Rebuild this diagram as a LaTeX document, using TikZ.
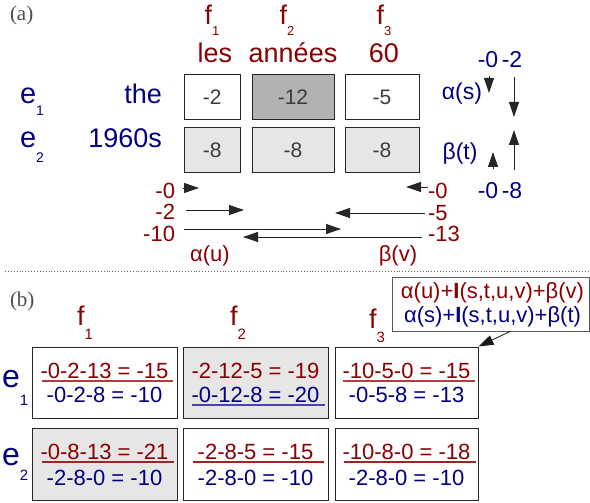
\documentclass[tikz,border=0pt]{standalone}
\usepackage{fontspec}
\setmainfont{Liberation Sans}
\setsansfont{Liberation Sans}
\newfontfamily\serifface{Liberation Serif}
\usetikzlibrary{arrows.meta}
\definecolor{dred}{RGB}{139,0,0}
\definecolor{dblue}{RGB}{0,0,128}
\definecolor{numgray}{RGB}{60,60,60}
\definecolor{lgray}{RGB}{230,230,230}
\definecolor{mgray}{RGB}{178,178,178}
\definecolor{ulred}{RGB}{180,60,60}
\definecolor{ulblue}{RGB}{70,70,170}
\newcommand\fsz[1]{\fontsize{#1}{#1}\selectfont}
\begin{document}
\begin{tikzpicture}[x=1pt,y=-1pt,
  txt/.style={inner sep=0pt,outer sep=0pt,anchor=base},
  rtxt/.style={txt,text=dred},
  btxt/.style={txt,text=dblue},
  acell/.style={draw=black!85,line width=1pt,inner sep=0pt,font=\fsz{21},text=numgray},
  bcell/.style={draw=black!85,line width=1pt,inner sep=0pt},
  ctxt/.style={inner sep=0pt,outer sep=0pt,font=\fsz{22}},
  arr/.style={-{Triangle[length=15pt,width=10pt]},line width=0.9pt,black!85},
  ul/.style={line width=1.3pt}
]
\useasboundingbox (0,0) rectangle (590,503);

% ---------- part (a) ----------
\node[txt,anchor=base west,text=black!70,font=\serifface\fsz{21}] (la) at (10,21) {(a)};

\node[rtxt,font=\fsz{27}] (f1a) at (212,25) {f\raisebox{-11pt}{\fsz{13}1}};
\node[rtxt,font=\fsz{27}] (f2a) at (287,25) {f\raisebox{-11pt}{\fsz{13}2}};
\node[rtxt,font=\fsz{27}] (f3a) at (384,25) {f\raisebox{-11pt}{\fsz{13}3}};
\node[rtxt,font=\fsz{27}] (w1) at (215,63) {les};
\node[rtxt,font=\fsz{27}] (w2) at (293,63) {années};
\node[rtxt,font=\fsz{27}] (w3) at (384,63) {60};

\node[btxt,anchor=base west,font=\fsz{29}] (e1a) at (20,103) {e\raisebox{-13pt}{\fsz{14}1}};
\node[btxt,anchor=base west,font=\fsz{29}] (e2a) at (20,148) {e\raisebox{-15pt}{\fsz{14}2}};
\node[btxt,anchor=base east,font=\fsz{27}] (the) at (162,103) {the};
\node[btxt,anchor=base east,font=\fsz{27}] (y1960) at (162,148) {1960s};

\node[acell,fill=white,minimum width=56.5pt,minimum height=45pt] (a11) at (212.25,97.5) {-2};
\node[acell,fill=mgray,minimum width=82pt,minimum height=45pt] (a12) at (293,97.5) {-12};
\node[acell,fill=white,minimum width=74pt,minimum height=45pt] (a13) at (382,97.5) {-5};
\node[acell,fill=lgray,minimum width=56.5pt,minimum height=45pt] (a21) at (212.25,150.5) {-8};
\node[acell,fill=lgray,minimum width=82pt,minimum height=45pt] (a22) at (293,150.5) {-8};
\node[acell,fill=lgray,minimum width=74pt,minimum height=45pt] (a23) at (382,150.5) {-8};

% right side alpha(s), beta(t)
\node[btxt,font=\fsz{23}] (s0) at (488,68) {-0};
\node[btxt,font=\fsz{23}] (s2) at (512,68) {-2};
\node[btxt,font=\fsz{23}] (als) at (462,100) {α(s)};
\node[btxt,font=\fsz{23}] (bet) at (460,160) {β(t)};
\node[btxt,font=\fsz{23}] (t0) at (488,198) {-0};
\node[btxt,font=\fsz{23}] (t8) at (512,198) {-8};
\coordinate (ds0a) at (489,76); \coordinate (ds0b) at (489,93);
\coordinate (ds2a) at (514,77); \coordinate (ds2b) at (514,117);
\coordinate (ut0a) at (493,169); \coordinate (ut0b) at (493,152);
\coordinate (ut8a) at (514,170); \coordinate (ut8b) at (514,130);
\draw[arr] (ds0a) -- (ds0b);
\draw[arr] (ds2a) -- (ds2b);
\draw[arr] (ut0a) -- (ut0b);
\draw[arr] (ut8a) -- (ut8b);

% bottom alpha(u), beta(v)
\node[rtxt,anchor=base east,font=\fsz{22}] (u0) at (175,198) {-0};
\node[rtxt,anchor=base east,font=\fsz{22}] (u2) at (175,219) {-2};
\node[rtxt,anchor=base east,font=\fsz{22}] (u10) at (175,241) {-10};
\node[rtxt,anchor=base west,font=\fsz{22}] (v0) at (428,198) {-0};
\node[rtxt,anchor=base west,font=\fsz{22}] (v5) at (428,220) {-5};
\node[rtxt,anchor=base west,font=\fsz{22}] (v13) at (428,241) {-13};
\node[rtxt,font=\fsz{22}] (alu) at (210,261) {α(u)};
\node[rtxt,font=\fsz{22}] (bev) at (398,261) {β(v)};
\coordinate (hu0a) at (183,188); \coordinate (hu0b) at (199,188);
\coordinate (hu2a) at (186,210); \coordinate (hu2b) at (244,210);
\coordinate (hu10a) at (184,229); \coordinate (hu10b) at (341,229);
\coordinate (hv0a) at (428,187); \coordinate (hv0b) at (406,187);
\coordinate (hv5a) at (425,213); \coordinate (hv5b) at (335,213);
\coordinate (hv13a) at (422,237); \coordinate (hv13b) at (243,237);
\draw[arr] (hu0a) -- (hu0b);
\draw[arr] (hu2a) -- (hu2b);
\draw[arr] (hu10a) -- (hu10b);
\draw[arr] (hv0a) -- (hv0b);
\draw[arr] (hv5a) -- (hv5b);
\draw[arr] (hv13a) -- (hv13b);

% separator
\draw[black!60,dotted,line width=0.9pt] (5,271) -- (588,271);

% ---------- part (b) ----------
\node[txt,anchor=base west,text=black!70,font=\serifface\fsz{21}] (lb) at (10,306) {(b)};

\node[rtxt,font=\fsz{27}] (f1b) at (85,325) {f\raisebox{-14pt}{\fsz{15}1}};
\node[rtxt,font=\fsz{27}] (f2b) at (238,325) {f\raisebox{-14pt}{\fsz{15}2}};
\node[rtxt,font=\fsz{27}] (f3b) at (377,328) {f\raisebox{-14pt}{\fsz{15}3}};

\node[btxt,anchor=base west,font=\fsz{32}] (e1b) at (2,387) {e\raisebox{-18pt}{\fsz{15}1}};
\node[btxt,anchor=base west,font=\fsz{32}] (e2b) at (2,465) {e\raisebox{-15pt}{\fsz{15}2}};

\node[bcell,fill=white,minimum width=145pt,minimum height=71pt] (b11) at (104.5,382.5) {};
\node[bcell,fill=lgray,minimum width=145pt,minimum height=71pt] (b12) at (255.5,382.5) {};
\node[bcell,fill=white,minimum width=143pt,minimum height=71pt] (b13) at (406.5,382.5) {};
\node[bcell,fill=lgray,minimum width=145pt,minimum height=72pt] (b21) at (104.5,464) {};
\node[bcell,fill=white,minimum width=145pt,minimum height=72pt] (b22) at (255.5,464) {};
\node[bcell,fill=white,minimum width=143pt,minimum height=72pt] (b23) at (406.5,464) {};

% row 1 texts
\node[ctxt,text=dred] (r11) at (104.5,371) {-0-2-13 = -15};
\node[ctxt,text=dblue] (q11) at (104.5,395) {-0-2-8 = -10};
\node[ctxt,text=dred] (r12) at (255.5,371) {-2-12-5 = -19};
\node[ctxt,text=dblue] (q12) at (255.5,395) {-0-12-8 = -20};
\node[ctxt,text=dred] (r13) at (406.5,371) {-10-5-0 = -15};
\node[ctxt,text=dblue] (q13) at (406.5,395) {-0-5-8 = -13};
% row 2 texts
\node[ctxt,text=dred] (r21) at (104.5,451.5) {-0-8-13 = -21};
\node[ctxt,text=dblue] (q21) at (104.5,478) {-2-8-0 = -10};
\node[ctxt,text=dred] (r22) at (255.5,451.5) {-2-8-5 = -15};
\node[ctxt,text=dblue] (q22) at (255.5,478) {-2-8-0 = -10};
\node[ctxt,text=dred] (r23) at (406.5,451.5) {-10-8-0 = -18};
\node[ctxt,text=dblue] (q23) at (406.5,478) {-2-8-0 = -10};

% underlines
\draw[ul,ulred] (42,381) -- (173,381);
\draw[ul,ulblue] (192,405) -- (325,405);
\draw[ul,ulred] (343,381) -- (475,381);
\draw[ul,dred!85] (42,462) -- (174,462);
\draw[ul,dred!85] (193,462) -- (324,462);
\draw[ul,dred!85] (344,462) -- (476,462);

% callout
\node[draw=black!65,line width=1pt,fill=white,minimum width=197pt,minimum height=54pt,inner sep=0pt] (call) at (490.5,304) {};
\node[rtxt,font=\fsz{22}] (cl1) at (492.5,298) {α(u)+\textbf{I}(s,t,u,v)+β(v)};
\node[btxt,font=\fsz{22}] (cl2) at (492.5,322) {α(s)+\textbf{I}(s,t,u,v)+β(t)};
\draw[-{Triangle[length=15pt,width=10pt]},line width=0.8pt,black!90] ([xshift=19.5pt]call.south) -- (b13.north east);

\end{tikzpicture}
\end{document}
